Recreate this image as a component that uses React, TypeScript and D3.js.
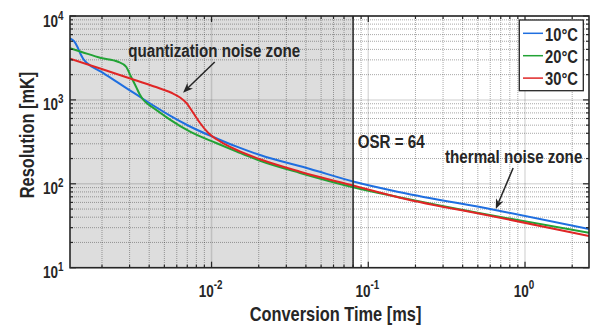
import React from "react";
import * as d3 from "d3";

const W = 595;
const H = 325;
const PLOT = { left: 70, right: 589, top: 16, bottom: 267.7 };

const xDomain = [0.00125, 2.56];
const yDomain = [10, 10000];
const osrTime = 0.08;

const seriesNames = ["10°C", "20°C", "30°C"];
const seriesColors = ["#1f6fe0", "#22a335", "#e02626"];

// Conversion time [ms]
const t10 = [0.00125, 0.00133, 0.00139, 0.00146, 0.00152, 0.00161, 0.00197, 0.00253, 0.00325, 0.004355, 0.00543, 0.00729, 0.01079, 0.01448, 0.0204, 0.04256, 0.08, 0.1596, 0.644, 2.56];
// Resolution [mK]
const r10 = [5400, 4970, 4330, 3520, 3070, 2730, 2170, 1603, 1186, 834, 649, 482, 347, 277, 220, 150, 106.5, 79.3, 48.8, 28.9];

const t20 = [0.00125, 0.001469, 0.00197, 0.00253, 0.002846, 0.003064, 0.003298, 0.003472, 0.003656, 0.003877, 0.004173, 0.004926, 0.00543, 0.00729, 0.01079, 0.01448, 0.0204, 0.0367, 0.08, 0.1596, 0.644, 2.56];
const r20 = [4120, 3750, 3160, 2850, 2487, 1890, 1436, 1176, 1011, 906, 823, 661, 581, 418, 304, 242, 188, 134.6, 91.1, 68.7, 41.3, 26.1];

const t30 = [0.00125, 0.00197, 0.003236, 0.004691, 0.005595, 0.006295, 0.006946, 0.007653, 0.008446, 0.009541, 0.01068, 0.01189, 0.01448, 0.0204, 0.0367, 0.08, 0.1596, 0.644, 2.56];
const r30 = [3098, 2348, 1727, 1367, 1208, 1068, 911, 698, 530, 403, 342, 304, 253, 196, 139.4, 95.4, 68.3, 40.5, 23.9];

const xMajor = [0.01, 0.1, 1];
const xMajorExp = ["-2", "-1", "0"];
const yMajor = [10, 100, 1000, 10000];
const yMajorExp = ["1", "2", "3", "4"];

// annotation arrows in data coordinates: [tail, tip]
const arrowQuant = [[0.01048, 2833], [0.00658, 1219]];
const arrowThermal = [[0.84, 154], [0.651, 50.1]];

const FONT = "'Liberation Sans',Arial,sans-serif";
const INK = "#262626";
const NARROW = 0.82;

function minorTicks(lo: number, hi: number) {
  const out: number[] = [];
  for (let e = Math.floor(Math.log10(lo)); e <= Math.ceil(Math.log10(hi)); e++) {
    for (let k = 2; k <= 9; k++) {
      const v = k * Math.pow(10, e);
      if (v >= lo && v <= hi) out.push(v);
    }
  }
  return out;
}

function T({ x, y, rotate = 0, anchor = "start", size, children }: any) {
  return (
    <text
      transform={`translate(${x},${y}) rotate(${rotate}) scale(${NARROW},1)`}
      textAnchor={anchor}
      fontSize={size}
      fontWeight="bold"
      fill={INK}
    >
      {children}
    </text>
  );
}

function Arrow({ x1, y1, x2, y2 }: { x1: number; y1: number; x2: number; y2: number }) {
  const dx = x2 - x1, dy = y2 - y1;
  const len = Math.hypot(dx, dy);
  const ux = dx / len, uy = dy / len;
  const hl = 10, hw = 4;
  const bx = x2 - ux * hl, by = y2 - uy * hl;
  const px = -uy, py = ux;
  const pts = [
    [x2, y2],
    [bx + px * hw, by + py * hw],
    [bx + ux * 3, by + uy * 3],
    [bx - px * hw, by - py * hw],
  ];
  return (
    <g>
      <line x1={x1} y1={y1} x2={bx + ux * 3} y2={by + uy * 3} stroke={INK} strokeWidth={1.5} />
      <polygon points={pts.map((p) => p.join(",")).join(" ")} fill={INK} />
    </g>
  );
}

export default function App() {
  const x = d3.scaleLog().domain(xDomain).range([PLOT.left, PLOT.right]);
  const y = d3.scaleLog().domain(yDomain).range([PLOT.bottom, PLOT.top]);

  const xMinor = minorTicks(xDomain[0], xDomain[1]);
  const yMinor = minorTicks(yDomain[0], yDomain[1]);

  const line = d3
    .line<[number, number]>()
    .x((d) => x(d[0]))
    .y((d) => y(d[1]))
    .curve(d3.curveMonotoneX);

  const series = [
    { t: t10, r: r10 },
    { t: t20, r: r20 },
    { t: t30, r: r30 },
  ];

  const pw = PLOT.right - PLOT.left;
  const ph = PLOT.bottom - PLOT.top;
  const xo = x(osrTime);

  const majorLen = 6, minorLen = 3;

  return (
    <svg width={W} height={H} style={{ position: "absolute", left: 0, top: 0, display: "block" }} fontFamily={FONT}>
      <rect x={0} y={0} width={W} height={H} fill="#ffffff" />
      <defs>
        <clipPath id="plotclip">
          <rect x={PLOT.left} y={PLOT.top} width={pw} height={ph} />
        </clipPath>
      </defs>
      {/* shaded quantization zone */}
      <rect x={PLOT.left} y={PLOT.top} width={xo - PLOT.left} height={ph} fill="#dddddd" />

      {/* grids */}
      <g>
        {xMinor.map((v, i) => (
          <line key={"xm" + i} x1={x(v)} x2={x(v)} y1={PLOT.top} y2={PLOT.bottom} stroke="rgba(26,26,26,0.38)" strokeWidth={1} strokeDasharray="1,1" />
        ))}
        {yMinor.map((v, i) => (
          <line key={"ym" + i} x1={PLOT.left} x2={PLOT.right} y1={y(v)} y2={y(v)} stroke="rgba(26,26,26,0.38)" strokeWidth={1} strokeDasharray="1,1" />
        ))}
        {xMajor.map((v, i) => (
          <line key={"xM" + i} x1={x(v)} x2={x(v)} y1={PLOT.top} y2={PLOT.bottom} stroke="rgba(26,26,26,0.15)" strokeWidth={1.5} />
        ))}
        {yMajor.map((v, i) => (
          <line key={"yM" + i} x1={PLOT.left} x2={PLOT.right} y1={y(v)} y2={y(v)} stroke="rgba(26,26,26,0.15)" strokeWidth={1.5} />
        ))}
      </g>

      {/* curves */}
      <g clipPath="url(#plotclip)">
        {series.map((s, i) => (
          <path
            key={i}
            d={line(s.t.map((t, j) => [t, s.r[j]] as [number, number])) || ""}
            fill="none"
            stroke={seriesColors[i]}
            strokeWidth={2}
          />
        ))}
      </g>

      {/* OSR line */}
      <line x1={xo} x2={xo} y1={PLOT.top} y2={PLOT.bottom} stroke="#333333" strokeWidth={1.6} />

      {/* axes box and ticks */}
      <rect x={PLOT.left} y={PLOT.top} width={pw} height={ph} fill="none" stroke={INK} strokeWidth={1.6} />
      <g stroke={INK} strokeWidth={1.2}>
        {xMajor.map((v, i) => (
          <g key={"xtM" + i}>
            <line x1={x(v)} x2={x(v)} y1={PLOT.bottom} y2={PLOT.bottom - majorLen} />
            <line x1={x(v)} x2={x(v)} y1={PLOT.top} y2={PLOT.top + majorLen} />
          </g>
        ))}
        {xMinor.map((v, i) => (
          <g key={"xtm" + i}>
            <line x1={x(v)} x2={x(v)} y1={PLOT.bottom} y2={PLOT.bottom - minorLen} />
            <line x1={x(v)} x2={x(v)} y1={PLOT.top} y2={PLOT.top + minorLen} />
          </g>
        ))}
        {yMajor.map((v, i) => (
          <g key={"ytM" + i}>
            <line x1={PLOT.left} x2={PLOT.left + majorLen} y1={y(v)} y2={y(v)} />
            <line x1={PLOT.right} x2={PLOT.right - majorLen} y1={y(v)} y2={y(v)} />
          </g>
        ))}
        {yMinor.map((v, i) => (
          <g key={"ytm" + i}>
            <line x1={PLOT.left} x2={PLOT.left + minorLen} y1={y(v)} y2={y(v)} />
            <line x1={PLOT.right} x2={PLOT.right - minorLen} y1={y(v)} y2={y(v)} />
          </g>
        ))}
      </g>

      {/* tick labels */}
      {yMajor.map((v, i) => (
        <T key={"yl" + i} x={63.5} y={y(v) + 10.5} anchor="end" size={16.5}>
          10
          <tspan fontSize={12} dy={-7}>{yMajorExp[i]}</tspan>
        </T>
      ))}
      {xMajor.map((v, i) => (
        <T key={"xl" + i} x={x(v) - 1} y={296.5} anchor="middle" size={16.5}>
          10
          <tspan fontSize={12} dy={-7.5}>{xMajorExp[i]}</tspan>
        </T>
      ))}

      {/* axis labels */}
      <T x={335.5} y={321} anchor="middle" size={20}>Conversion Time [ms]</T>
      <T x={33.5} y={135} rotate={-90} anchor="middle" size={20}>Resolution [mK]</T>

      {/* annotations */}
      <T x={128.3} y={56.5} size={18.5}>quantization noise zone</T>
      <T x={357.7} y={148} size={18.5}>OSR = 64</T>
      <T x={445} y={163.3} size={18.5}>thermal noise zone</T>
      <Arrow x1={x(arrowQuant[0][0])} y1={y(arrowQuant[0][1])} x2={x(arrowQuant[1][0])} y2={y(arrowQuant[1][1])} />
      <Arrow x1={x(arrowThermal[0][0])} y1={y(arrowThermal[0][1])} x2={x(arrowThermal[1][0])} y2={y(arrowThermal[1][1])} />

      {/* legend */}
      <g>
        <rect x={519.3} y={20} width={64} height={70.7} fill="#ffffff" stroke={INK} strokeWidth={1.3} />
        {seriesNames.map((name, i) => (
          <g key={"lg" + i}>
            <line x1={523} x2={543} y1={33.3 + i * 22.4} y2={33.3 + i * 22.4} stroke={seriesColors[i]} strokeWidth={1.5} />
            <T x={545} y={40.6 + i * 22.4} size={18}>{name}</T>
          </g>
        ))}
      </g>
    </svg>
  );
}
